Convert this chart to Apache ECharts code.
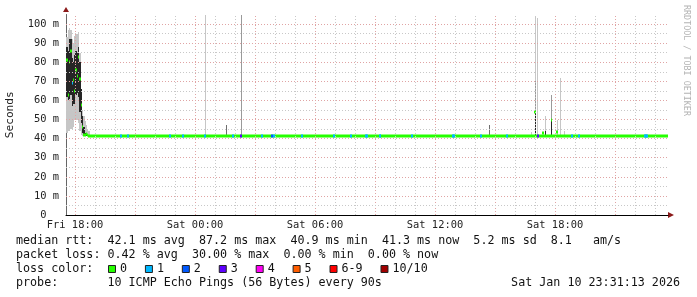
<!DOCTYPE html>
<html><head><meta charset="utf-8">
<script src="https://cdn.jsdelivr.net/npm/echarts@6/dist/echarts.min.js"></script>
<style>html,body{margin:0;padding:0;background:#fff}#c{width:697px;height:297px}</style>
</head><body><div id="c"></div>
<script>
// ---------- DATA (time = hours since Fri 00:00, values in ms) ----------
const xStart = 17.55, xEnd = 47.65;
const yMax = 105;
const xTickHours = [18, 24, 30, 36, 42];
const xTickLabels = ['Fri 18:00', 'Sat 00:00', 'Sat 06:00', 'Sat 12:00', 'Sat 18:00'];
const yTickValues = [0, 10, 20, 30, 40, 50, 60, 70, 80, 90, 100];

// early turbulent period: one entry per RRD sample
const earlyT      = [17.6, 17.665, 17.73, 17.795, 17.86, 17.925, 17.99, 18.055, 18.12, 18.185, 18.25, 18.315, 18.38, 18.445, 18.51, 18.575, 18.64, 18.705];
const earlyMedian = [81, 63, 80, 86, 69, 70.7, 65, 76, 73, 83, 71, 57.6, 46, 42, 42, 42.4, 41.8, 41.5];
const earlyLoss   = [0, 0, 0, 0, 1, 0, 0, 0, 0, 0, 0, 0, 0, 0, 0, 0, 0, 0];
const earlyMin    = [43, 44, 44, 45, 45, 46, 50, 50, 50, 48, 44, 42, 41.5, 41.3, 41.3, 41.3, 41.3, 41.3];
const earlyMax    = [93, 97, 98, 97, 92, 90, 94, 95, 95, 96, 85, 63, 55, 52, 49, 47, 45, 44];
const earlyLo     = [62, 60, 61, 63, 57, 58, 58, 63, 64, 62, 54, 48, 43, 41.5, 41.5, 41.5, 41.5, 41.3];
const earlyHi     = [88, 86, 92, 92, 82, 80, 84, 86, 85, 88, 80, 66, 52, 46, 43, 43, 42.5, 42];

// steady period
const baseMedian = 41.3;
const baseFrom = 18.74;

// isolated smoke spikes: time, low, high, shade (0 light, 1 mid, 2 dark grey, 3 black)
const spikeT     = [24.5, 25.55, 26.3, 38.7, 40.825, 41.0, 41.0, 41.0, 41.135, 41.5, 41.5, 41.8, 41.8, 42.1, 42.25, 42.45];
const spikeLo    = [41.3, 41.3, 41.3, 41.3, 41.3, 41.3, 41.3, 41.3, 41.3, 41.3, 42, 41.3, 41.3, 41.3, 41.3, 41.3];
const spikeHi    = [105, 47, 105, 47, 43.5, 104, 70, 53.5, 103, 52, 44, 63, 50, 50, 72, 44];
const spikeShade = [0, 2, 1, 2, 0, 0, 1, 3, 0, 0, 3, 1, 3, 0, 0, 0];

// medians off the baseline inside the spike period
const spikeMedT    = [41.0, 41.4, 41.825, 42.085];
const spikeMedV    = [53.7, 43.0, 50.0, 43.6];
const spikeMedLoss = [0, 0, 0, 0];

// loss events on the baseline: time, lost pings (of 10)
const lossT     = [20.285, 20.665, 22.75, 23.415, 24.5, 25.885, 26.315, 27.335, 27.835, 27.95, 29.335, 30.965, 31.785, 32.55, 32.6, 33.225, 33.275, 34.825, 36.915, 36.965, 38.29, 39.585, 41.15, 42.835, 43.2, 46.5, 46.55, 46.6];
const lossCount = [1, 1, 1, 1, 1, 1, 3, 1, 2, 1, 1, 1, 1, 1, 1, 1, 1, 1, 1, 1, 1, 1, 3, 1, 1, 1, 1, 1];

const lossLabels = ['0', '1', '2', '3', '4', '5', '6-9', '10/10'];
const lossColors = ['#26ff00', '#00b8ff', '#0059ff', '#5e00ff', '#ff00f5', '#ff5e00', '#ff0000', '#a10000'];

const statsRtt  = 'median rtt:  42.1 ms avg  87.2 ms max  40.9 ms min  41.3 ms now  5.2 ms sd  8.1   am/s';
const statsLoss = 'packet loss: 0.42 % avg  30.00 % max  0.00 % min  0.00 % now';
const probeText = 'probe:       10 ICMP Echo Pings (56 Bytes) every 90s';
const stampText = 'Sat Jan 10 23:31:13 2026';

// ---------- STYLE ----------
const MONO = '"DejaVu Sans Mono", monospace';
const SHADES = ['#c6c6c6', '#9a9a9a', '#6e6e6e', '#262626'];
const SAMPLE_H = 0.065;
const LOSS_W = 0.1;
const GRID_MAJOR = '#e0a4a4', GRID_MINOR = '#c8c8c8';

function lossIndex(n) { return n <= 5 ? n : (n < 10 ? 6 : 7); }

const bandData = [];
earlyT.forEach((t, i) => {
  bandData.push([t, earlyMin[i], earlyMax[i], 0, SAMPLE_H]);
  bandData.push([t, earlyLo[i], earlyHi[i], 3, SAMPLE_H]);
});
spikeT.forEach((t, i) => bandData.push([t, spikeLo[i], spikeHi[i], spikeShade[i], 0.05]));

const medData = [];
medData.push([baseFrom, xEnd, baseMedian, 0]);
earlyT.forEach((t, i) => medData.push([t - SAMPLE_H / 2, t + SAMPLE_H / 2, earlyMedian[i], lossIndex(earlyLoss[i])]));
spikeMedT.forEach((t, i) => medData.push([t - 0.04, t + 0.04, spikeMedV[i], lossIndex(spikeMedLoss[i])]));
lossT.forEach((t, i) => medData.push([t - LOSS_W / 2, t + LOSS_W / 2, baseMedian, lossIndex(lossCount[i])]));

function renderBand(params, api) {
  const t = api.value(0), lo = api.value(1), hi = api.value(2), sh = api.value(3), w = api.value(4);
  const a = api.coord([t - w / 2, hi]), b = api.coord([t + w / 2, lo]);
  const x0 = Math.round(a[0]); const x1 = Math.max(Math.round(b[0]), x0 + 1);
  const y0 = Math.round(a[1]), y1 = Math.round(b[1]);
  return { type: 'rect', shape: { x: x0, y: y0, width: x1 - x0, height: Math.max(y1 - y0, 1) }, style: { fill: SHADES[sh] } };
}
function renderMedian(params, api) {
  const t0 = api.value(0), t1 = api.value(1), v = api.value(2), li = api.value(3);
  const a = api.coord([t0, v]), b = api.coord([t1, v]);
  const x0 = Math.round(a[0]); const x1 = Math.max(Math.round(b[0]), x0 + 1);
  const yc = Math.round(a[1]);
  return { type: 'rect', shape: { x: x0, y: yc - 1.5, width: x1 - x0, height: 3 }, style: { fill: lossColors[li] } };
}

// grid lines
const gridLines = [];
for (let h = Math.ceil(xStart); h < xEnd; h++) {
  gridLines.push({ xAxis: h, lineStyle: { color: h % 3 === 0 ? GRID_MAJOR : GRID_MINOR } });
}
for (let v = 5; v < 100; v += 5) {
  gridLines.push({ yAxis: v, lineStyle: { color: v % 10 === 0 ? GRID_MAJOR : GRID_MINOR } });
}
gridLines.push({ yAxis: 100, lineStyle: { color: GRID_MAJOR } });

// legend graphics
const LX = 16, CW = 7.02, FS = 11.7;
const rowY = [241, 255, 269, 283];
const graphics = [];
function txt(x, y, s, extra) {
  graphics.push(Object.assign({ type: 'text', x: x, y: y, silent: true,
    style: { text: s, font: FS + 'px ' + MONO, fill: '#111', textVerticalAlign: 'middle', textAlign: 'left' } }, extra || {}));
}
txt(LX, rowY[0], statsRtt);
txt(LX, rowY[1], statsLoss);
txt(LX, rowY[2], 'loss color:');
txt(LX, rowY[3], probeText);
graphics.push({ type: 'text', x: 680, y: rowY[3], silent: true,
  style: { text: stampText, font: FS + 'px ' + MONO, fill: '#111', textVerticalAlign: 'middle', textAlign: 'right' } });
let bx = 108.5;
lossLabels.forEach((lab, i) => {
  graphics.push({ type: 'rect', silent: true, shape: { x: bx, y: rowY[2] - 3.5, width: 7, height: 7 },
    style: { fill: lossColors[i], stroke: '#222', lineWidth: 1 } });
  txt(bx + 11.5, rowY[2], lab);
  bx = bx + 11.5 + lab.length * CW + 18.4;
});
// axis arrows and watermark
graphics.push({ type: 'polygon', silent: true, shape: { points: [[668, 212], [668, 218], [674, 215]] }, style: { fill: '#8b1a1a' } });
graphics.push({ type: 'polygon', silent: true, shape: { points: [[63, 12], [69, 12], [66, 7]] }, style: { fill: '#8b1a1a' } });
graphics.push({ type: 'text', x: 686, y: 5, rotation: -Math.PI / 2, silent: true,
  style: { text: 'RRDTOOL / TOBI OETIKER', font: '8.4px ' + MONO, fill: '#b4b4b4', textAlign: 'left', textVerticalAlign: 'middle' } });

const chart = echarts.init(document.getElementById('c'), null, { renderer: 'canvas', width: 697, height: 297 });
chart.setOption({
  animation: false,
  backgroundColor: '#ffffff',
  grid: { left: 66, top: 14.5, width: 602, height: 200.5, containLabel: false, outerBoundsMode: 'none' },
  xAxis: {
    type: 'value', min: xStart, max: xEnd,
    axisLine: { show: true, onZero: false, lineStyle: { color: '#000', width: 1 } },
    axisTick: { show: false },
    splitLine: { show: false },
    axisLabel: {
      customValues: xTickHours,
      formatter: v => { const i = xTickHours.indexOf(Math.round(v)); return i >= 0 ? xTickLabels[i] : ''; },
      fontFamily: MONO, fontSize: 10.4, color: '#222', margin: 5
    }
  },
  yAxis: {
    type: 'value', min: 0, max: yMax, interval: 10,
    name: 'Seconds', nameLocation: 'middle', nameGap: 50, nameRotate: 90,
    nameTextStyle: { fontFamily: MONO, fontSize: 11.2, color: '#222' },
    axisLine: { show: true, lineStyle: { color: '#666', width: 1 } },
    axisTick: { show: false },
    splitLine: { show: false },
    axisLabel: {
      showMaxLabel: false,
      formatter: v => yTickValues.indexOf(v) < 0 ? '' : (v === 0 ? '0  ' : v + ' m'),
      fontFamily: MONO, fontSize: 10.4, color: '#222', margin: 7
    }
  },
  series: [
    { type: 'line', data: [], z: 1, silent: true,
      markLine: { silent: true, symbol: ['none', 'none'], label: { show: false },
        lineStyle: { type: [1, 2], width: 1 }, emphasis: { disabled: true }, data: gridLines } },
    { type: 'custom', z: 2, clip: true, silent: true, renderItem: renderBand, data: bandData,
      encode: { x: 0, y: [1, 2] } },
    { type: 'custom', z: 3, clip: true, silent: true, renderItem: renderMedian, data: medData,
      encode: { x: [0, 1], y: 2 } }
  ],
  graphic: graphics
});
</script></body></html>
